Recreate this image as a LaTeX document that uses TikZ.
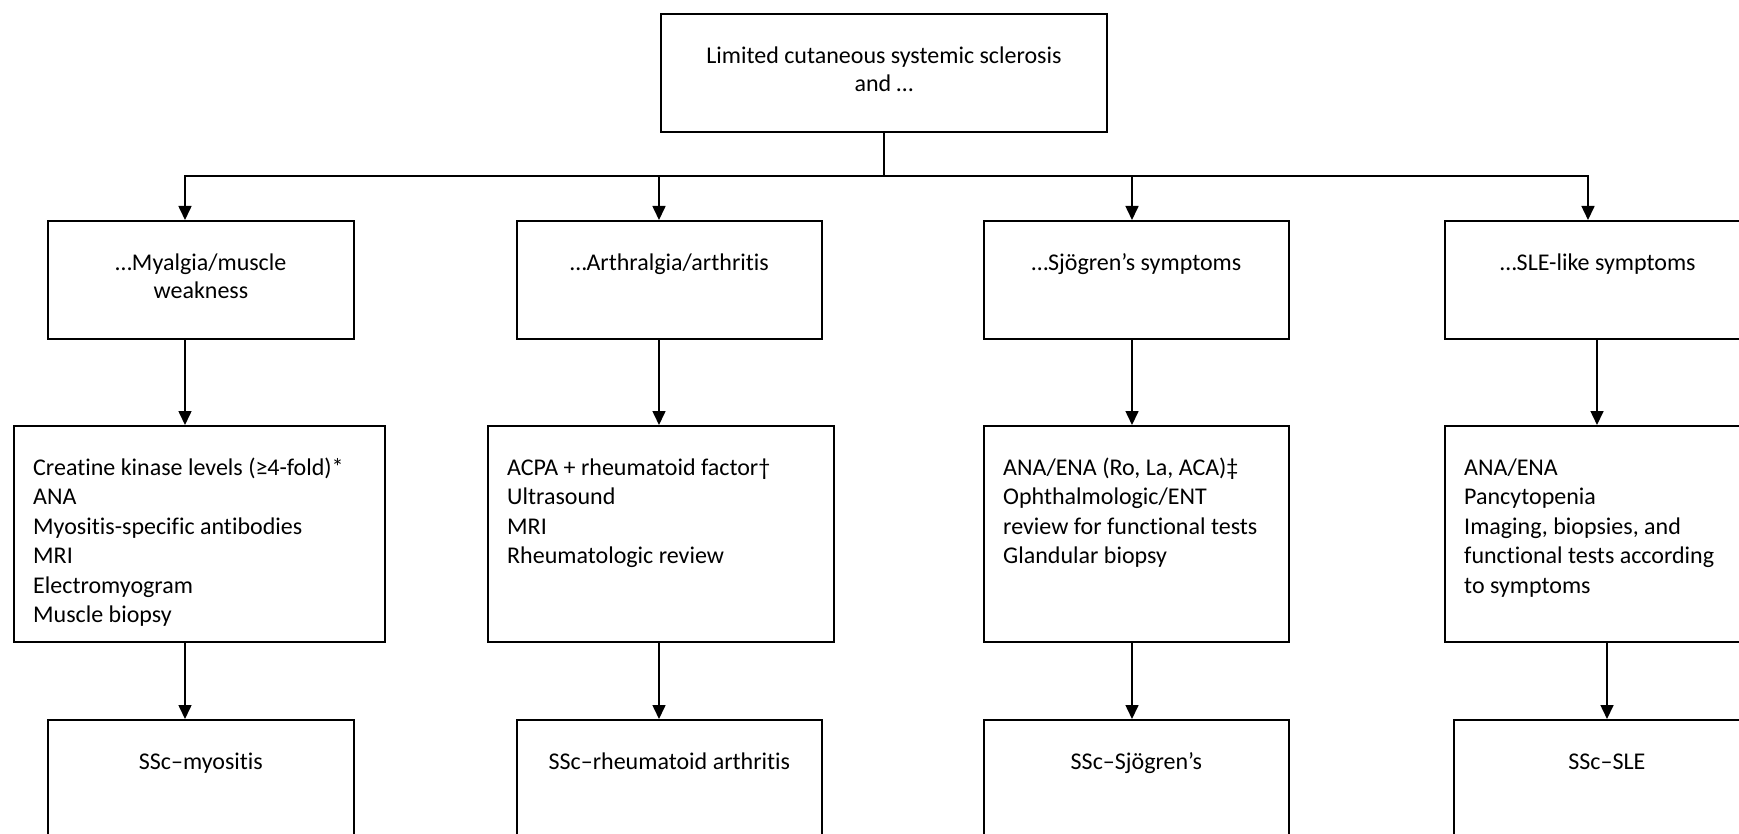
\documentclass[tikz,border=0pt]{standalone}
\usepackage{fontspec}
\setmainfont[Ligatures=NoCommon]{Carlito}
\usetikzlibrary{arrows.meta,positioning}
\newcommand{\lnstrut}{\rule{0pt}{19pt}}

\begin{document}
\begin{tikzpicture}[x=1pt,y=-1pt,
  box/.style={draw, line width=1.8pt, inner sep=0pt, anchor=north west},
  flow/.style={-{Triangle[length=14pt,width=13pt]}, line width=1.6pt},
  ctext/.style={inner sep=0pt, font=\fontsize{24}{28}\selectfont, align=center},
  ltext/.style={inner sep=0pt, font=\fontsize{24}{29.5}\selectfont, align=left}]

  % Page frame (boxes on the right and bottom run off the page)
  \useasboundingbox (0,0) rectangle (1739,834);
  \clip (0,0) rectangle (1739,834);

  % Top box
  \node[box, minimum width=446pt, minimum height=118pt] (root) at (660,13) {};
  \node[ctext, below=31pt of root.north] (roott) {\lnstrut Limited cutaneous systemic sclerosis\\and …};

  % Symptom boxes
  \node[box, minimum width=306pt, minimum height=118pt] (a1) at (47,220) {};
  \node[box, minimum width=305pt, minimum height=118pt] (b1) at (516,220) {};
  \node[box, minimum width=305pt, minimum height=118pt] (c1) at (983,220) {};
  \node[box, minimum width=306pt, minimum height=118pt] (d1) at (1444,220) {};
  \node[ctext, below=31pt of a1.north] (a1t) {\lnstrut …Myalgia/muscle\\weakness};
  \node[ctext, below=31pt of b1.north] (b1t) {\lnstrut …Arthralgia/arthritis};
  \node[ctext, below=31pt of c1.north] (c1t) {\lnstrut …Sjögren’s symptoms};
  \node[ctext, below=31pt of d1.north] (d1t) {\lnstrut …SLE-like symptoms};

  % Work-up boxes
  \node[box, minimum width=371pt, minimum height=216pt] (a2) at (13,425) {};
  \node[box, minimum width=346pt, minimum height=216pt] (b2) at (487,425) {};
  \node[box, minimum width=305pt, minimum height=216pt] (c2) at (983,425) {};
  \node[box, minimum width=306pt, minimum height=216pt] (d2) at (1444,425) {};
  \node[ltext, below right=31pt and 20pt of a2.north west] (a2t) {\lnstrut Creatine kinase levels (≥4-fold)*\\ANA\\Myositis-specific antibodies\\MRI\\Electromyogram\\Muscle biopsy};
  \node[ltext, below right=31pt and 20pt of b2.north west] (b2t) {\lnstrut ACPA + rheumatoid factor†\\Ultrasound\\MRI\\Rheumatologic review};
  \node[ltext, below right=31pt and 20pt of c2.north west] (c2t) {\lnstrut ANA/ENA (Ro, La, ACA)‡\\Ophthalmologic/ENT\\review for functional tests\\Glandular biopsy};
  \node[ltext, below right=31pt and 20pt of d2.north west] (d2t) {\lnstrut ANA/ENA\\Pancytopenia\\Imaging, biopsies, and\\functional tests according\\to symptoms};

  % Overlap boxes
  \node[box, minimum width=306pt, minimum height=118pt] (a3) at (47,719) {};
  \node[box, minimum width=305pt, minimum height=118pt] (b3) at (516,719) {};
  \node[box, minimum width=305pt, minimum height=118pt] (c3) at (983,719) {};
  \node[box, minimum width=306pt, minimum height=118pt] (d3) at (1453,719) {};
  \node[ctext, below=31pt of a3.north] (a3t) {\lnstrut SSc–myositis};
  \node[ctext, below=31pt of b3.north] (b3t) {\lnstrut SSc–rheumatoid arthritis};
  \node[ctext, below=31pt of c3.north] (c3t) {\lnstrut SSc–Sjögren’s};
  \node[ctext, below=31pt of d3.north] (d3t) {\lnstrut SSc–SLE};

  % Arrow columns
  \coordinate (split) at (883,176);
  \coordinate (ca) at (185,0);
  \coordinate (cb) at (659,0);
  \coordinate (cc) at (1132,0);
  \coordinate (cd) at (1588,0);
  \coordinate (de) at (1597,0);
  \coordinate (df) at (1607,0);

  % Branching from the top box
  \draw[line width=1.6pt] (root.south) -- (root.south |- split);
  \draw[line width=1.6pt, line cap=rect] (ca |- split) -- (cd |- split);
  \foreach \c/\v in {ca/a1, cb/b1, cc/c1, cd/d1}
    \draw[flow] (\c |- split) -- (\c |- \v.north);

  % Down the columns
  \foreach \c/\u/\v in {ca/a1/a2, cb/b1/b2, cc/c1/c2, de/d1/d2}
    \draw[flow] (\c |- \u.south) -- (\c |- \v.north);
  \foreach \c/\u/\v in {ca/a2/a3, cb/b2/b3, cc/c2/c3, df/d2/d3}
    \draw[flow] (\c |- \u.south) -- (\c |- \v.north);

\end{tikzpicture}
\end{document}
